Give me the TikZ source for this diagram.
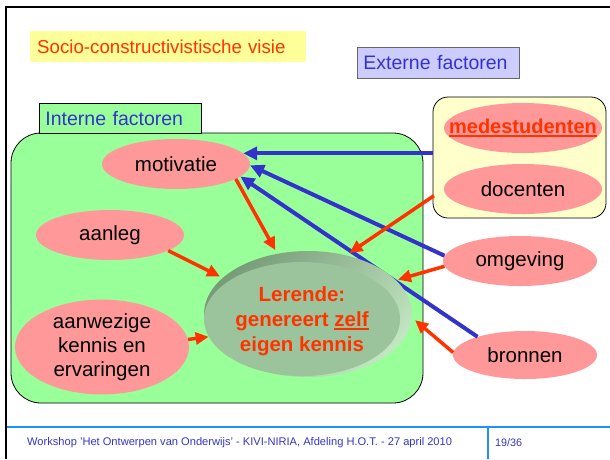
\documentclass[tikz,border=0pt]{standalone}
\usepackage{fontspec}
\setmainfont{Liberation Sans}
\usetikzlibrary{shapes.geometric,arrows.meta}
\definecolor{redo}{HTML}{FF3300}
\definecolor{pinkf}{HTML}{FF9999}
\definecolor{greenf}{HTML}{99FF99}
\definecolor{bluet}{HTML}{3333CC}
\definecolor{yel}{HTML}{FFFF99}
\definecolor{lyel}{HTML}{FFFFCC}
\definecolor{lav}{HTML}{CCCCFF}
\definecolor{footc}{HTML}{1E90FF}
\definecolor{facec}{HTML}{9CC49C}
\definecolor{rimdark}{HTML}{789C78}
\definecolor{rimlight}{HTML}{C2E6C2}
\newcommand\myul[1]{\setbox0=\hbox{#1}\rlap{\rule[-3.5pt]{\wd0}{1.8pt}}\box0}
\begin{document}
\begin{tikzpicture}[x=1pt,y=-1pt,
  pinkell/.style={ellipse, fill=pinkf, inner sep=0pt, font=\fontsize{20.5}{24}\selectfont},
  redarr/.style={draw=redo, line width=3.5pt, -{Triangle[length=13pt,width=12pt]}},
  bluearr/.style={draw=bluet, line width=4pt, -{Triangle[length=14pt,width=13pt]}},
  labbox/.style={inner ysep=0pt, anchor=north west, minimum height=31pt, align=left,
    font=\fontsize{19.5}{22}\selectfont}]
\useasboundingbox (0,0) rectangle (610,459);
% frame
\draw[line width=2.5pt] (6,459) -- (6,7) -- (610,7);
% footer
\draw[footc, line width=2pt] (7,427) -- (610,427);
\draw[footc, line width=2pt] (488,427) -- (488,459);
\node[anchor=west, inner sep=0pt, text=bluet, font=\fontsize{11.1}{13}\selectfont] (foot) at (27,443)
  {Workshop 'Het Ontwerpen van Onderwijs' - KIVI-NIRIA, Afdeling H.O.T. - 27 april 2010};
\node[anchor=west, inner sep=0pt, text=bluet, font=\fontsize{10.8}{12}\selectfont] (page) at (495,443) {19/36};
% title boxes
\node[labbox, fill=yel, text=redo, inner xsep=7pt, text width=262pt, font=\fontsize{18.7}{22}\selectfont] (title) at (30,31) {Socio-constructivistische visie};
\node[labbox, fill=lav, draw=black!60, line width=0.8pt, text=bluet, inner xsep=6pt, text width=150pt] (extl) at (357,47) {Externe factoren};
% green box
\node[draw, line width=0.8pt, fill=greenf, rounded corners=30pt, minimum width=412pt, minimum height=270pt, inner sep=0pt] (green) at (217,268) {};
\node[labbox, fill=greenf, draw, line width=0.8pt, text=bluet, inner xsep=6pt, text width=150pt, minimum height=30pt] (intl) at (39,103) {Interne factoren};
% external box
\node[draw, line width=0.8pt, fill=lyel, rounded corners=15pt, minimum width=173pt, minimum height=121pt, inner sep=0pt] (ext) at (519.5,157.5) {};
\node[pinkell, minimum width=158pt, minimum height=50pt, text=redo, font=\bfseries\fontsize{20}{24}\selectfont] (med) at (523,128) {\makebox[0pt]{\myul{medestudenten}}};
\node[pinkell, minimum width=158pt, minimum height=50pt] (doc) at (523,189) {docenten};
% outer nodes
\node[pinkell, minimum width=148pt, minimum height=50pt] (mot) at (176,164) {motivatie};
\node[pinkell, minimum width=148pt, minimum height=50pt] (anl) at (110,235) {aanleg};
\node[pinkell, minimum width=174pt, minimum height=92pt, align=center] (aanw) at (102,347) {aanwezige\\kennis en\\ervaringen};
\node[pinkell, minimum width=154pt, minimum height=50pt] (omg) at (520,261) {omgeving};
\node[pinkell, minimum width=144pt, minimum height=48pt] (bro) at (525,355) {bronnen};
% blue arrows
\draw[bluearr] (mot.9 -| ext.west) -- (mot.9);
\draw[bluearr] (omg.176) -- (mot.-1);
\draw[bluearr] (bro.159) -- (mot.-11);
% Lerende
\node[ellipse, inner sep=0pt, minimum width=208pt, minimum height=126pt, top color=rimdark, bottom color=rimlight, shading angle=45] (ler) at (308,314) {};
\node[ellipse, inner sep=0pt, fill=facec, minimum width=196pt, minimum height=114pt] (lerf) at (302,319) {};
\node[align=center, text=redo, font=\bfseries\fontsize{20.5}{25}\selectfont] (lert) at (302,321) {Lerende:\\genereert \myul{zelf}\\eigen kennis};
% red arrows
\draw[redarr, shorten >=4pt] (mot.-14) -- (ler.117);
\draw[redarr, shorten >=3pt] (anl.-15) -- (ler.157);
\draw[redarr, shorten >=2pt] (aanw.5) -- (ler.193);
\draw[redarr, shorten <=12pt, shorten >=4pt] (doc.west) -- (ler.57);
\draw[redarr, shorten >=2pt] (omg.184) -- (ler.21);
\draw[redarr, shorten >=4pt] (bro.178) -- (ler.-2);
\end{tikzpicture}
\end{document}
